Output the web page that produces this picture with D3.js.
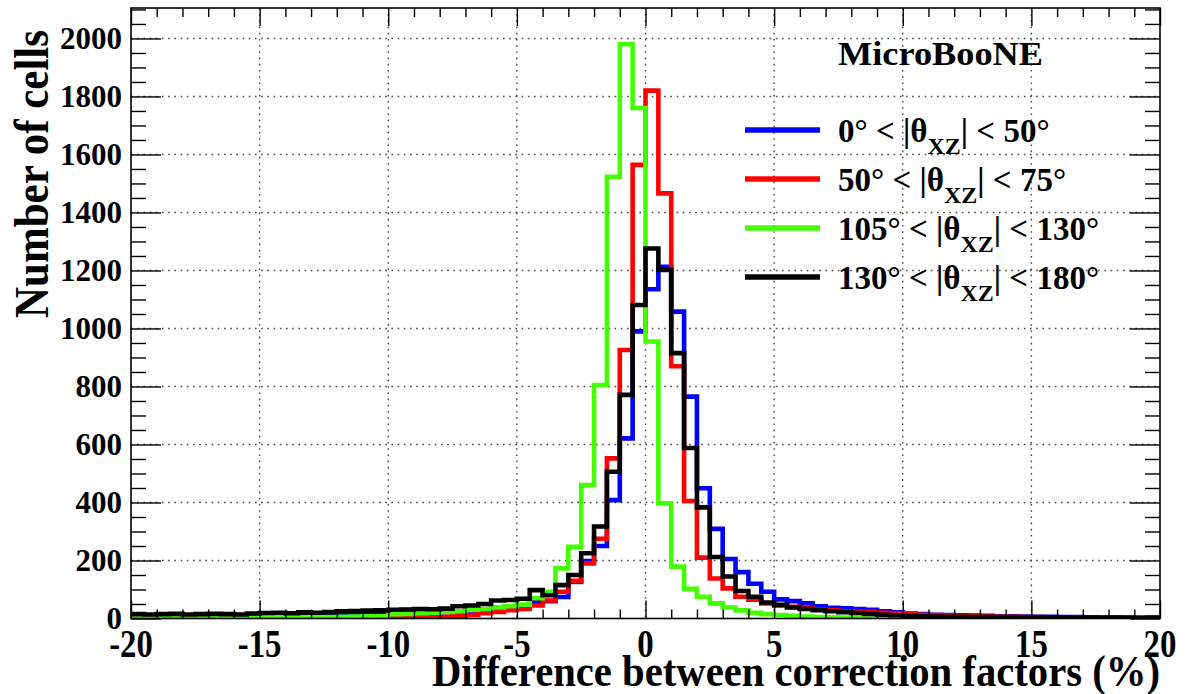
<!DOCTYPE html>
<html><head><meta charset="utf-8">
<script src="https://cdn.jsdelivr.net/npm/d3@7"></script>
<style>
body{margin:0;background:#fff}
svg{display:block}
text{font-family:"Liberation Serif","Times New Roman",serif;font-weight:bold;fill:#000}
</style>
</head><body>
<svg id="c" width="1185" height="694"></svg>
<script>
// ---- data ----
const binLowEdges = d3.range(-20, 20, 0.5);   // 80 bins of 0.5 %
const binUpper = 20;
const xMajorTicks = [-20, -15, -10, -5, 0, 5, 10, 15, 20];
const yMajorTicks = [0, 200, 400, 600, 800, 1000, 1200, 1400, 1600, 1800, 2000];
const seriesNames = ["0° < |θ", "50° < |θ", "105° < |θ", "130° < |θ"];
const seriesEnds = ["| < 50°", "| < 75°", "| < 130°", "| < 180°"];
const seriesColors = ["#0000ff", "#ff0000", "#44ff00", "#000000"];

const blue = [6,5,6,5,7,6,7,8,7,8, 9,8,9,10,11,10,12,13,14,15,
  16,17,18,20,22,24,28,32,36,40, 45,57,60,74,126,198,250,408,621,990,
  1135,1213,1058,765,449,309,205,160,120,92, 66,60,52,42,37,35,33,30,25,21,
  17,15,13,12,11,10,9,8,8,7, 6,6,5,5,4,4,4,3,3,3];
const red = [2,2,1,2,2,1,2,2,2,1, 2,2,2,1,2,2,3,2,3,3,
  3,3,4,5,6,8,12,18,23,29, 33,45,62,92,130,190,275,552,926,1564,
  1820,1466,870,405,210,138,104,75,65,52, 45,40,35,31,28,25,24,22,20,18,
  15,13,12,10,9,8,7,6,6,5, 5,4,4,3,3,3,2,2,2,2];
const green = [3,2,3,2,3,3,2,3,4,3, 4,5,4,5,6,5,6,7,8,8,
  15,16,18,20,23,25,30,33,38,42, 48,70,92,173,247,460,805,1523,1980,1760,
  955,397,179,102,75,52,38,28,20,15, 12,9,7,5,4,3,2,2,1,1,
  1,1,1,1,0,1,0,0,1,0, 0,0,1,0,0,0,0,0,0,0];
const black = [15,14,15,16,14,15,16,15,14,17, 19,20,18,21,20,22,25,26,27,28,
  30,31,33,32,34,42,45,50,62,64, 68,98,80,115,150,225,317,506,771,1081,
  1276,1202,915,588,383,212,145,95,75,55, 47,38,33,29,25,22,19,16,13,11,
  9,8,7,6,6,5,5,4,4,4, 3,3,3,2,3,2,2,2,1,2];
const allSeries = [blue, red, green, black];

// ---- layout ----
const L = 131, R = 1160, T = 8, B = 618.5;
const svg = d3.select("#c");
const x = d3.scaleLinear().domain([-20, 20]).range([L, R]);
const y = d3.scaleLinear().domain([0, 2105]).range([B, T]);

svg.append("rect").attr("width",1185).attr("height",694).attr("fill","#fff");

// grid
const grid = svg.append("g").attr("stroke","#444").attr("stroke-width",1.4).attr("stroke-dasharray","1.6,4.6");
grid.selectAll(".gx").data(xMajorTicks.slice(1,-1)).join("line")
  .attr("x1",d=>x(d)).attr("x2",d=>x(d)).attr("y1",T).attr("y2",B);
grid.selectAll(".gy").data(yMajorTicks.slice(1)).join("line")
  .attr("x1",L).attr("x2",R).attr("y1",d=>y(d)).attr("y2",d=>y(d));

// histograms
svg.append("clipPath").attr("id","clip").append("rect")
  .attr("x",L).attr("y",T).attr("width",R-L).attr("height",B-T);
const line = d3.line().x(d=>x(d[0])).y(d=>y(d[1])).curve(d3.curveStepAfter);
allSeries.forEach((vals,k)=>{
  const pts = binLowEdges.map((lo,i)=>[lo, vals[i]]);
  pts.push([binUpper, vals[vals.length-1]]);
  svg.append("path").attr("d", line(pts)).attr("fill","none")
    .attr("stroke", seriesColors[k]).attr("stroke-width",4.6)
    .attr("clip-path","url(#clip)");
});

// axes ticks
function styleAxis(g){ g.select(".domain").remove(); g.selectAll("line").attr("stroke","#000").attr("stroke-width",1.4); g.selectAll("text").remove(); }
const xMinor = d3.range(-20, 21, 1).filter(v=>v%5!==0);
const yMinor = d3.range(0, 2101, 50).filter(v=>v%200!==0);
svg.append("g").attr("transform",`translate(0,${B})`).call(d3.axisBottom(x).tickValues(xMajorTicks).tickSize(-18)).call(styleAxis);
svg.append("g").attr("transform",`translate(0,${B})`).call(d3.axisBottom(x).tickValues(xMinor).tickSize(-9)).call(styleAxis);
svg.append("g").attr("transform",`translate(0,${T})`).call(d3.axisTop(x).tickValues(xMajorTicks).tickSize(-18)).call(styleAxis);
svg.append("g").attr("transform",`translate(0,${T})`).call(d3.axisTop(x).tickValues(xMinor).tickSize(-9)).call(styleAxis);
svg.append("g").attr("transform",`translate(${L},0)`).call(d3.axisLeft(y).tickValues(yMajorTicks).tickSize(-30)).call(styleAxis);
svg.append("g").attr("transform",`translate(${L},0)`).call(d3.axisLeft(y).tickValues(yMinor).tickSize(-15)).call(styleAxis);
svg.append("g").attr("transform",`translate(${R},0)`).call(d3.axisRight(y).tickValues(yMajorTicks).tickSize(-30)).call(styleAxis);
svg.append("g").attr("transform",`translate(${R},0)`).call(d3.axisRight(y).tickValues(yMinor).tickSize(-15)).call(styleAxis);

// frame
svg.append("rect").attr("x",L).attr("y",T).attr("width",R-L).attr("height",B-T)
  .attr("fill","none").attr("stroke","#000").attr("stroke-width",1.6);

// tick labels
svg.selectAll(".yl").data(yMajorTicks).join("text")
  .attr("x",122).attr("y",d=>y(d)+10.5).attr("text-anchor","end")
  .attr("font-size",31).text(d=>d);
svg.selectAll(".xl").data(xMajorTicks).join("text")
  .attr("transform",d=>`translate(${x(d)},657) scale(0.8,1)`)
  .attr("text-anchor","middle").attr("font-size",41).text(d=>d);

// axis titles
svg.append("text").attr("x",1160).attr("y",686).attr("text-anchor","end")
  .attr("font-size",45).attr("textLength",728).attr("lengthAdjust","spacingAndGlyphs")
  .text("Difference between correction factors (%)");
svg.append("text").attr("transform","translate(48,30) rotate(-90)").attr("text-anchor","end")
  .attr("font-size",49).attr("textLength",288).attr("lengthAdjust","spacingAndGlyphs")
  .text("Number of cells");

// label
svg.append("text").attr("x",838).attr("y",65).attr("font-size",33)
  .attr("textLength",205).attr("lengthAdjust","spacingAndGlyphs").text("MicroBooNE");

// legend
const legY = [130, 179, 228, 277];
seriesNames.forEach((nm,k)=>{
  svg.append("line").attr("x1",745).attr("x2",820).attr("y1",legY[k]).attr("y2",legY[k])
    .attr("stroke",seriesColors[k]).attr("stroke-width",5.5);
  const t = svg.append("text").attr("x",838).attr("y",legY[k]+11.5).attr("font-size",33);
  t.append("tspan").text(nm);
  t.append("tspan").attr("font-size",24).attr("dy",12).text("XZ");
  t.append("tspan").attr("dy",-12).text(seriesEnds[k]);
});
</script>
</body></html>
